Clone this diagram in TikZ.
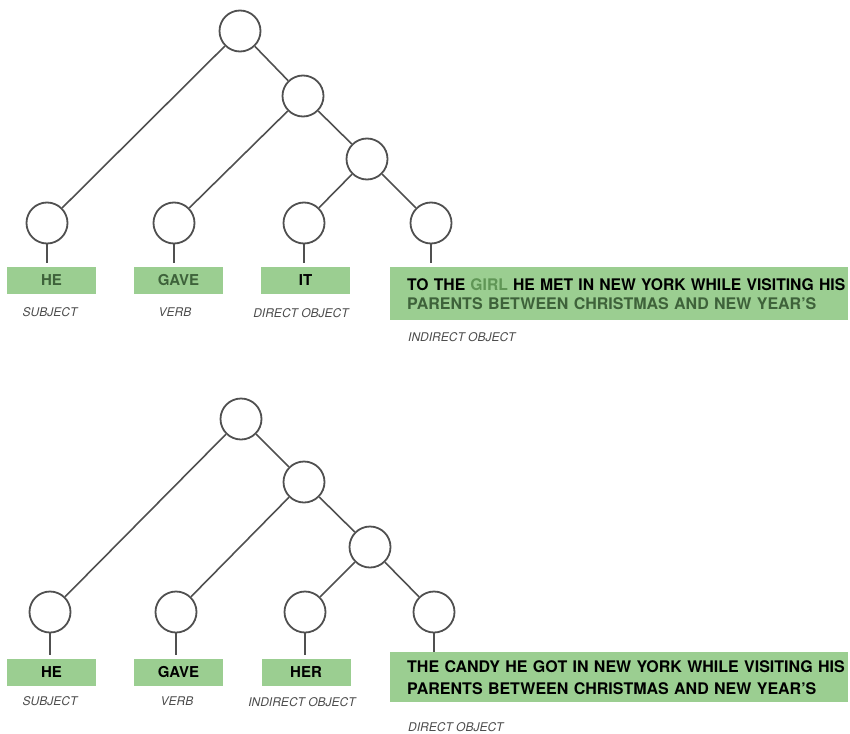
\documentclass[tikz,border=0pt]{standalone}
\usepackage{fontspec}
\setmainfont{TeX Gyre Heros}
\definecolor{linegray}{RGB}{80,80,80}
\definecolor{labelgray}{RGB}{75,75,75}
\definecolor{boxgreen}{RGB}{155,206,145}
\definecolor{deepgreen}{RGB}{62,98,58}
\definecolor{softgreen}{RGB}{96,150,86}
% one unbroken line of a phrase box, optionally set a little narrower
\newcommand{\phraseline}[2][1]{\scalebox{#1}[1]{\mbox{#2}}}
\begin{document}
\begin{tikzpicture}[x=1pt,y=-1pt,
  knot/.style={circle,draw=linegray,line width=1.8pt,minimum size=41pt,inner sep=0pt},
  branch/.style={draw=linegray,line width=1.6pt},
  wordbox/.style={fill=boxgreen,minimum width=89pt,minimum height=27pt,inner sep=0pt,
    font=\fontsize{15}{18}\selectfont\bfseries},
  phrasebox/.style={fill=boxgreen,anchor=north west,minimum width=458pt,
    inner xsep=17pt,inner ysep=0pt,text width=424pt,align=left},
  role/.style={font=\fontsize{12}{14}\selectfont\itshape,text=labelgray,inner sep=0pt}
]
\useasboundingbox (0,0) rectangle (850,733);

% ---------- first sentence ----------
\node[knot] (a0) at (240,31) {};
\node[knot] (a1) at (303,96) {};
\node[knot] (a2) at (367,159) {};
\node[knot] (aS) at (47,223) {};
\node[knot] (aV) at (174,223) {};
\node[knot] (aD) at (304,223) {};
\node[knot] (aI) at (431,223) {};
\draw[branch] (a0) -- (aS);
\draw[branch] (a0) -- (a1);
\draw[branch] (a1) -- (aV);
\draw[branch] (a1) -- (a2);
\draw[branch] (a2) -- (aD);
\draw[branch] (a2) -- (aI);

\node[wordbox,text=deepgreen] (bS) at (51.5,280.5) {HE};
\node[wordbox,text=deepgreen] (bV) at (178.5,280.5) {GAVE};
\node[wordbox,text=black] (bD) at (305.5,280.5) {IT};
\node[phrasebox,minimum height=53pt,
  font=\fontsize{16}{19}\selectfont\bfseries] (bI) at (390,267)
  {\phraseline[0.98]{TO THE \textcolor{softgreen}{GIRL} HE MET IN NEW YORK WHILE VISITING HIS}\\
   \phraseline{\textcolor{deepgreen}{PARENTS BETWEEN CHRISTMAS AND NEW YEAR'S}}};

\draw[branch,shorten >=4pt] (aS.south) -- (aS.south |- bS.north);
\draw[branch,shorten >=4pt] (aV.south) -- (aV.south |- bV.north);
\draw[branch,shorten >=4pt] (aD.south) -- (aD.south |- bD.north);
\draw[branch,shorten >=4pt] (aI.south) -- (aI.south |- bI.north);

\node[role] (rS) at (50,312) {SUBJECT};
\node[role] (rV) at (175,312) {VERB};
\node[role] (rD) at (301,313) {DIRECT OBJECT};
\node[role,anchor=west] (rI) at (408,337) {INDIRECT OBJECT};

% ---------- second sentence ----------
\node[knot] (c0) at (241,419) {};
\node[knot] (c1) at (304,482) {};
\node[knot] (c2) at (370,547) {};
\node[knot] (cS) at (50,612) {};
\node[knot] (cV) at (176,612) {};
\node[knot] (cI) at (305,612) {};
\node[knot] (cD) at (434,612) {};
\draw[branch] (c0) -- (cS);
\draw[branch] (c0) -- (c1);
\draw[branch] (c1) -- (cV);
\draw[branch] (c1) -- (c2);
\draw[branch] (c2) -- (cI);
\draw[branch] (c2) -- (cD);

\node[wordbox] (dS) at (51.5,672.5) {HE};
\node[wordbox] (dV) at (178.5,672.5) {GAVE};
\node[wordbox] (dI) at (306,672.5) {HER};
\node[phrasebox,minimum height=50pt,
  font=\fontsize{16}{22}\selectfont\bfseries] (dD) at (390,652)
  {\phraseline{THE CANDY HE GOT IN NEW YORK WHILE VISITING HIS}\\
   \phraseline{PARENTS BETWEEN CHRISTMAS AND NEW YEAR'S}};

\draw[branch,shorten >=4pt] (cS.south) -- (cS.south |- dS.north);
\draw[branch,shorten >=4pt] (cV.south) -- (cV.south |- dV.north);
\draw[branch,shorten >=4pt] (cI.south) -- (cI.south |- dI.north);
\draw[branch] (cD.south) -- (cD.south |- dD.north);

\node[role] (sS) at (50,701) {SUBJECT};
\node[role] (sV) at (177,701) {VERB};
\node[role] (sI) at (302,702) {INDIRECT OBJECT};
\node[role,anchor=west] (sD) at (408,727) {DIRECT OBJECT};
\end{tikzpicture}
\end{document}
